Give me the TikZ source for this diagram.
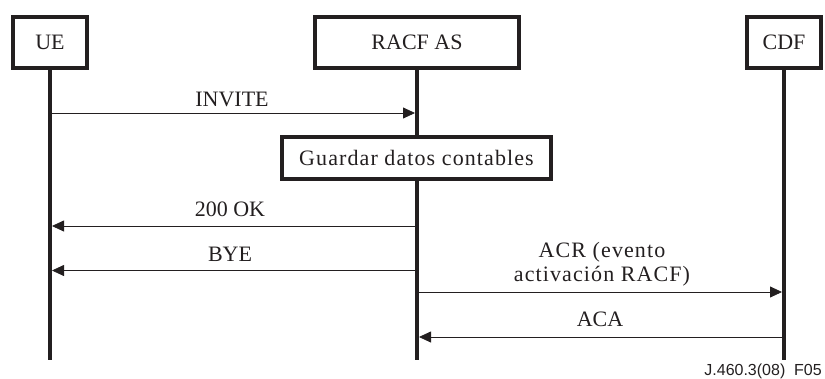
\documentclass[tikz,border=0pt]{standalone}
\usepackage{fontspec}
\setmainfont{Liberation Serif}
\newfontfamily\footfont{Liberation Sans}
\newfontfamily\spacedfont[LetterSpace=5]{Liberation Serif}
\usetikzlibrary{arrows.meta}
\definecolor{ink}{HTML}{231F20}

\begin{document}
\begin{tikzpicture}[x=1pt,y=-1pt,
  entity/.style={draw=ink, line width=4pt, fill=white, inner sep=0pt,
    text=ink, font=\fontsize{22}{24}\selectfont},
  life/.style={draw=ink, line width=4pt},
  msg/.style={draw=ink, line width=0.8pt, -{Triangle[length=12pt,width=11pt]}},
  lbl/.style={anchor=south, inner sep=0pt, text depth=0pt, align=center,
    text=ink, font=\fontsize{22}{24}\selectfont}]
\useasboundingbox (0,0) rectangle (825,378);

% participants
\node[entity, minimum width=74pt, minimum height=51pt] (ue) at (50,42.5) {UE};
\node[entity, minimum width=204pt, minimum height=51pt] (as) at (417,42.5) {RACF AS};
\node[entity, minimum width=74pt, minimum height=51pt] (cdf) at (784,42.5) {CDF};

% lifelines
\coordinate (ueEnd) at (50,360);
\coordinate (asEnd) at (417,360);
\coordinate (cdfEnd) at (784,360);
\draw[life] (ue.south) -- (ueEnd);
\draw[life] (as.south) -- (asEnd);
\draw[life] (cdf.south) -- (cdfEnd);

% local action on the RACF AS
\node[entity, minimum width=269pt, minimum height=42pt, font=\fontsize{22}{24}\spacedfont]
  (store) at (416.5,158) {Guardar datos contables};

% message end points
\coordinate (ue1) at (50,113);   \coordinate (as1) at (415,113);
\coordinate (as2) at (417,226);  \coordinate (ue2) at (52,226);
\coordinate (as3) at (417,270.5);\coordinate (ue3) at (52,270.5);
\coordinate (as4) at (417,292);  \coordinate (cdf4) at (782,292);
\coordinate (cdf5) at (784,337); \coordinate (as5) at (419,337);

% messages
\draw[msg] (ue1) -- (as1);
\draw[msg] (as2) -- (ue2);
\draw[msg] (as3) -- (ue3);
\draw[msg] (as4) -- (cdf4);
\draw[msg] (cdf5) -- (as5);

% message labels
\node[lbl] (l1) at (232,107) {INVITE};
\node[lbl] (l2) at (230,216.5) {200 OK};
\node[lbl] (l3) at (230,261.5) {BYE};
\node[lbl, font=\fontsize{22}{24}\spacedfont] (l4) at (602,282) {ACR (evento\\activación RACF)};
\node[lbl] (l5) at (600,326.5) {ACA};

% figure reference
\node[anchor=base east, inner sep=0pt, text=ink, font=\fontsize{16}{18}\footfont]
  (ref) at (822,375) {J.460.3(08)\ \ F05};
\end{tikzpicture}
\end{document}
